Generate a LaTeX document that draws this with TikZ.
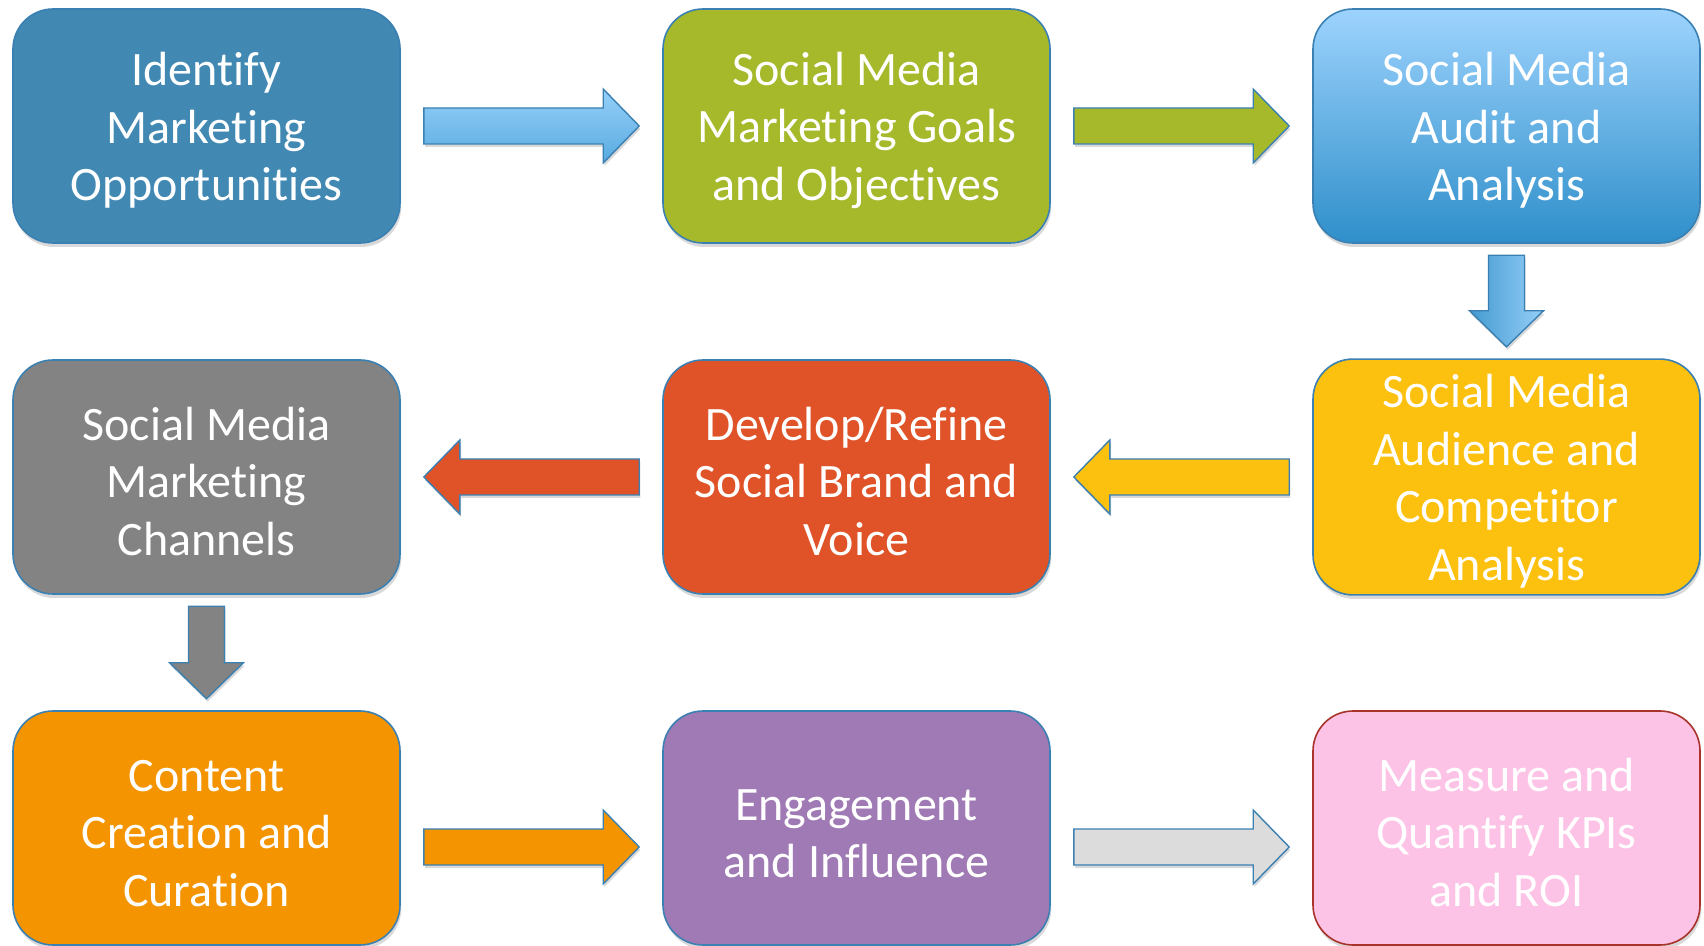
\documentclass[tikz,border=0pt]{standalone}
\usepackage{fontspec}
\setmainfont{Carlito}[Ligatures=NoCommon]
\usetikzlibrary{calc,shadows}

\definecolor{edgeblue}{HTML}{3A80B3}
\definecolor{edgered}{HTML}{A8332A}
\definecolor{steel}{HTML}{4189B3}
\definecolor{olive}{HTML}{A5B92B}
\definecolor{skytop}{HTML}{9DD3FD}
\definecolor{skybot}{HTML}{2F8FCA}
\definecolor{gold}{HTML}{FCC00E}
\definecolor{brick}{HTML}{E05328}
\definecolor{slate}{HTML}{838383}
\definecolor{amber}{HTML}{F39400}
\definecolor{plum}{HTML}{A07AB4}
\definecolor{blush}{HTML}{FDC3E7}
\definecolor{silver}{HTML}{DCDCDC}
\definecolor{arrtop}{HTML}{96CFF9}
\definecolor{arrbot}{HTML}{58ABE0}

% taller first line, pushes the text block a little down
\newcommand{\lift}{\rule{0pt}{21pt}}

\tikzset{
	stage/.style={rectangle,rounded corners=20pt,minimum width=193.5pt,minimum height=117pt,
		draw=edgeblue,line width=0.8pt,text=white,align=center,
		font=\fontsize{24}{28.8}\selectfont,
		drop shadow={shadow xshift=0.6pt,shadow yshift=-2pt,opacity=0.3}},
	% fat arrow between two points, #1 = gap left at both ends
	block/.style={draw=edgeblue,line width=0.7pt,
		drop shadow={shadow xshift=0.6pt,shadow yshift=-1.5pt,opacity=0.3},
		to path={let \p1=($(\tikztostart)!#1!(\tikztotarget)$),
			\p2=($(\tikztotarget)!#1!(\tikztostart)$),
			\p3=($(\p2)!18pt!(\p1)$),
			\n1={atan2(\y2-\y1,\x2-\x1)+90} in
			($(\p1)+(\n1:9pt)$) -- ($(\p3)+(\n1:9pt)$) -- ($(\p3)+(\n1:18.5pt)$) -- (\p2)
			-- ($(\p3)-(\n1:18.5pt)$) -- ($(\p3)-(\n1:9pt)$) -- ($(\p1)-(\n1:9pt)$) -- cycle}},
	block/.default=11.5pt
}

\begin{document}
\begin{tikzpicture}
	\useasboundingbox (0,0) rectangle (852pt,-473pt);
	% first row
	\node[stage,fill=steel] (ident) at (103.25pt,-63pt) {\lift Identify\\Marketing\\Opportunities};
	\node[stage,fill=olive] (goals) at (428.25pt,-63pt) {\lift Social Media\\Marketing Goals\\and Objectives};
	\node[stage,top color=skytop,bottom color=skybot] (audit) at (753.25pt,-63pt) {\lift Social Media\\Audit and\\Analysis};
	% second row
	\node[stage,fill=gold] (audience) at (753.25pt,-238.5pt) {\lift Social Media\\Audience and\\Competitor\\Analysis};
	\node[stage,fill=brick] (brand) at (428.25pt,-238.5pt) {\lift Develop/Refine\\Social Brand and\\Voice};
	\node[stage,fill=slate] (channels) at (103.25pt,-238.5pt) {\lift Social Media\\Marketing\\Channels};
	% third row
	\node[stage,fill=amber] (content) at (103.25pt,-414pt) {\lift Content\\Creation and\\Curation};
	\node[stage,fill=plum] (engage) at (428.25pt,-414pt) {\lift Engagement\\and Influence};
	\node[stage,fill=blush,draw=edgered] (kpi) at (753.25pt,-414pt) {\lift Measure and\\Quantify KPIs\\and ROI};

	\draw[block,top color=arrtop,bottom color=arrbot] (ident.east) to (goals.west);
	\draw[block,fill=olive] (goals.east) to (audit.west);
	\draw[block=5.75pt,left color=skybot!90,right color=arrtop] (audit.south) to (audience.north);
	\draw[block,fill=gold] (audience.west) to (brand.east);
	\draw[block,fill=brick] (brand.west) to (channels.east);
	\draw[block=5.75pt,fill=slate] (channels.south) to (content.north);
	\draw[block,fill=amber] ([yshift=-9.5pt]content.east) to ([yshift=-9.5pt]engage.west);
	\draw[block,fill=silver] ([yshift=-9.5pt]engage.east) to ([yshift=-9.5pt]kpi.west);
\end{tikzpicture}
\end{document}
